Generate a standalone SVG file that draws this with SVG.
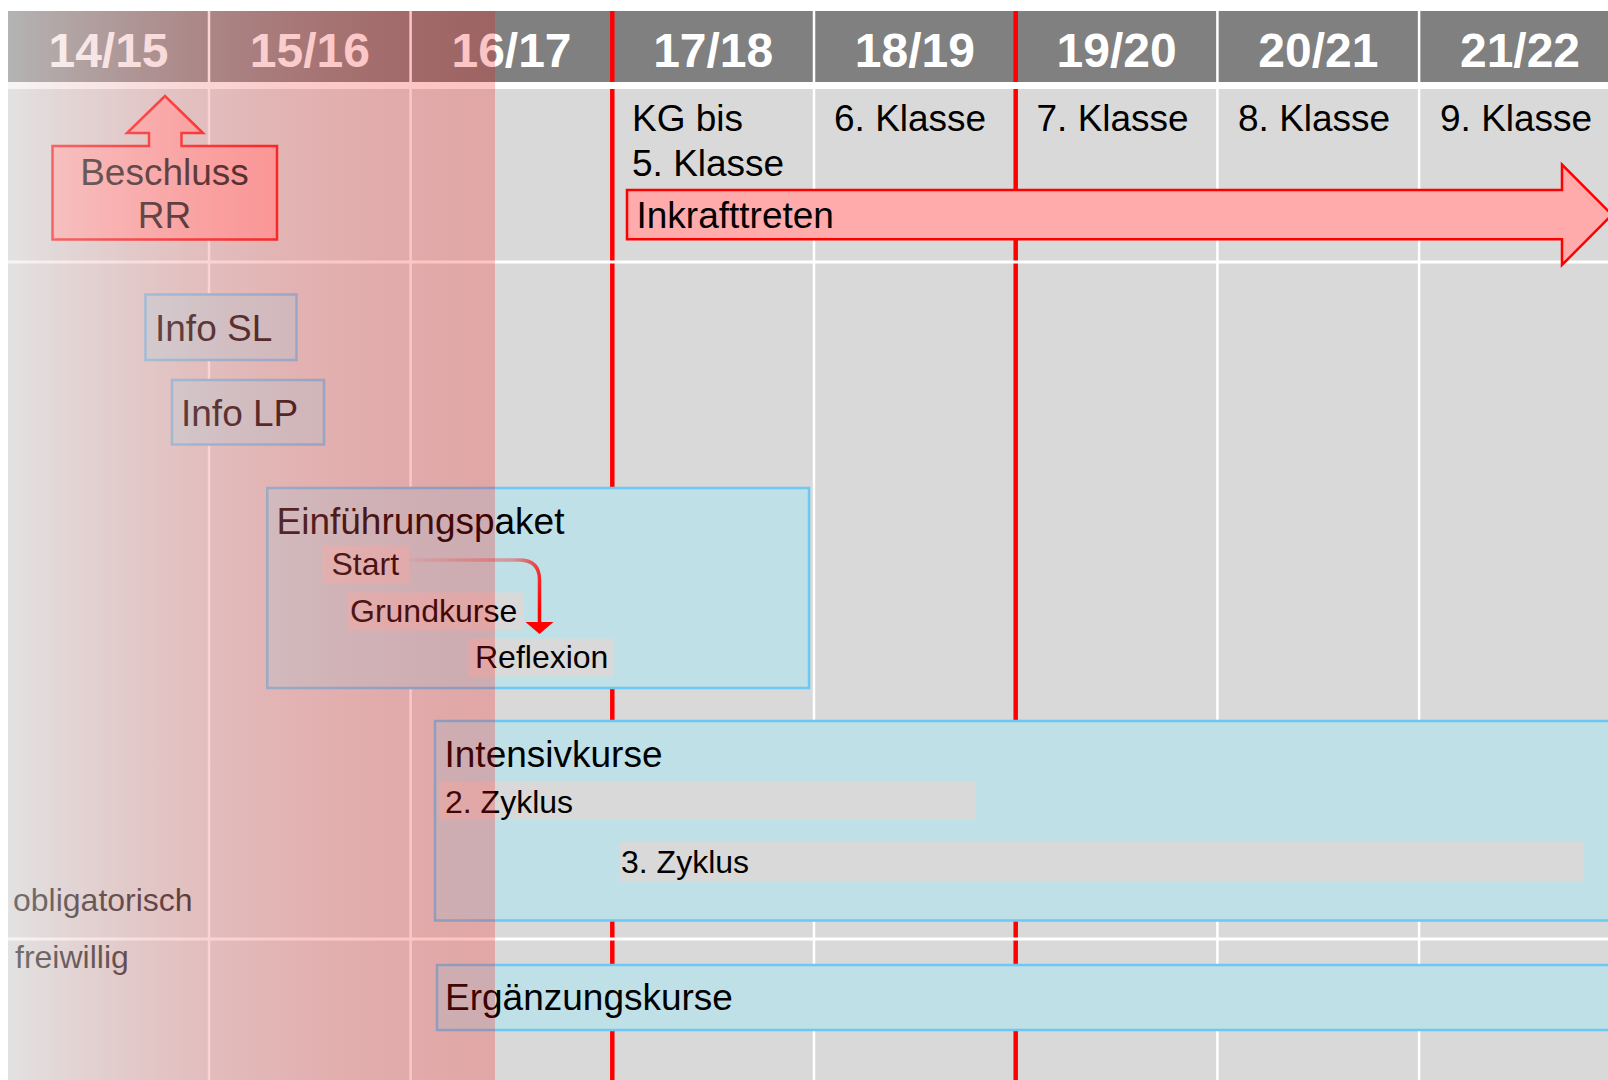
<svg xmlns="http://www.w3.org/2000/svg" width="1608" height="1080" viewBox="0 0 1608 1080">
<defs>
<style>
text{font-family:"Liberation Sans",Arial,sans-serif;fill:#000}
.yr{font-size:48px;font-weight:bold;fill:#fff;text-anchor:middle}
.kl{font-size:37px}
.lbl{font-size:37px}
.sub{font-size:32px}
.side{font-size:32px}
.vline{stroke:#fff;stroke-width:2.5}
.redline{stroke:#ff0000;stroke-width:4.5}
.hline{fill:#fff}
.box{fill:#bfe0e6;stroke:#6cc8f4;stroke-width:2.5}
.bar{fill:#d9d9d9}
.callout{fill:#ffabab;stroke:#ff0000;stroke-width:2.5}
</style>
<linearGradient id="ov" gradientUnits="userSpaceOnUse" x1="8" y1="0" x2="495" y2="0">
<stop offset="0" stop-color="rgb(236,236,236)" stop-opacity="0.48"/>
<stop offset="1" stop-color="rgb(250,10,10)" stop-opacity="0.24"/>
</linearGradient>
<linearGradient id="cg" gradientUnits="userSpaceOnUse" x1="409" y1="560" x2="540" y2="610">
<stop offset="0" stop-color="#ff0000" stop-opacity="0.05"/>
<stop offset="0.7" stop-color="#ff0000" stop-opacity="0.35"/>
<stop offset="1" stop-color="#ff0000" stop-opacity="1"/>
</linearGradient>
<marker id="ah" markerUnits="userSpaceOnUse" viewBox="0 0 12 28" refX="0" refY="14" markerWidth="12" markerHeight="28" orient="auto">
<path d="M0,0 L12,14 L0,28 Z" fill="#ff0000"/>
</marker>
</defs>
<rect x="0" y="0" width="1608" height="1080" fill="#fff"/>
<g id="grid">
<rect x="8" y="11" width="1600" height="71" fill="#808080"/>
<rect x="8" y="89" width="1600" height="991" fill="#d9d9d9"/>
<line class="vline" x1="209" y1="11" x2="209" y2="1080"/>
<line class="vline" x1="410.6" y1="11" x2="410.6" y2="1080"/>
<line class="vline" x1="814" y1="11" x2="814" y2="1080"/>
<line class="vline" x1="1217.4" y1="11" x2="1217.4" y2="1080"/>
<line class="vline" x1="1419.1" y1="11" x2="1419.1" y2="1080"/>
<line class="redline" x1="612.3" y1="11" x2="612.3" y2="1080"/>
<line class="redline" x1="1015.7" y1="11" x2="1015.7" y2="1080"/>
<rect class="hline" x="8" y="82" width="1600" height="7"/>
<rect class="hline" x="8" y="260.5" width="1600" height="3"/>
<rect class="hline" x="8" y="937.5" width="1600" height="3"/>
</g>
<g id="years">
<text class="yr" x="108.5" y="66.5">14/15</text>
<text class="yr" x="309.8" y="66.5">15/16</text>
<text class="yr" x="511.5" y="66.5">16/17</text>
<text class="yr" x="713.2" y="66.5">17/18</text>
<text class="yr" x="914.9" y="66.5">18/19</text>
<text class="yr" x="1116.6" y="66.5">19/20</text>
<text class="yr" x="1318.3" y="66.5">20/21</text>
<text class="yr" x="1520" y="66.5">21/22</text>
</g>
<g id="classes">
<text class="kl" x="632" y="130.5">KG bis</text>
<text class="kl" x="632" y="176">5. Klasse</text>
<text class="kl" x="834" y="130.5">6. Klasse</text>
<text class="kl" x="1036.5" y="130.5">7. Klasse</text>
<text class="kl" x="1238" y="130.5">8. Klasse</text>
<text class="kl" x="1440" y="130.5">9. Klasse</text>
</g>
<g id="inkrafttreten">
<path class="callout" d="M627,190 H1562 V164.5 L1612,214.7 L1562,265 V239.3 H627 Z"/>
<text class="lbl" x="636.5" y="227.5">Inkrafttreten</text>
</g>
<g id="beschluss">
<path class="callout" d="M52.5,146 H149 V133 H127 L165,96 L203,133 H181.5 V146 H277 V239.5 H52.5 Z"/>
<text class="lbl" x="164.5" y="184.5" text-anchor="middle">Beschluss</text>
<text class="lbl" x="164.5" y="227.5" text-anchor="middle">RR</text>
</g>
<g id="info-sl">
<rect class="box" x="145.5" y="294.5" width="151" height="65.5"/>
<text class="lbl" x="155" y="341">Info SL</text>
</g>
<g id="info-lp">
<rect class="box" x="172" y="380" width="152" height="64.5"/>
<text class="lbl" x="181" y="425.5">Info LP</text>
</g>
<g id="einfuehrungspaket">
<rect class="box" x="267.3" y="488" width="541.7" height="200"/>
<text class="lbl" x="276.5" y="533.5">Einführungspaket</text>
</g>
<g id="start">
<rect class="bar" x="322.5" y="545.5" width="86.5" height="37.5"/>
<text class="sub" x="331.5" y="575">Start</text>
</g>
<g id="grundkurse">
<rect class="bar" x="347.5" y="592.5" width="176.5" height="38"/>
<text class="sub" x="350" y="621.5">Grundkurse</text>
</g>
<g id="reflexion">
<rect class="bar" x="468.5" y="638.5" width="145.5" height="38"/>
<text class="sub" x="475" y="667.5">Reflexion</text>
</g>
<g id="intensivkurse">
<rect class="box" x="435" y="721" width="1200" height="199.5"/>
<text class="lbl" x="444.5" y="766.5">Intensivkurse</text>
</g>
<g id="zyklus2">
<rect class="bar" x="439" y="782" width="537" height="38"/>
<text class="sub" x="445" y="813">2. Zyklus</text>
</g>
<g id="zyklus3">
<rect class="bar" x="620" y="842" width="964" height="39"/>
<text class="sub" x="621" y="872.5">3. Zyklus</text>
</g>
<g id="ergaenzungskurse">
<rect class="box" x="437" y="965" width="1200" height="65"/>
<text class="lbl" x="445" y="1010">Ergänzungskurse</text>
</g>
<g id="connectors">
<path d="M409,560 H519 Q539.5,560 539.5,580 V622" fill="none" stroke="url(#cg)" stroke-width="3.5" marker-end="url(#ah)"/>
</g>
<g id="side-labels">
<text class="side" x="13" y="910.5">obligatorisch</text>
<text class="side" x="15" y="968">freiwillig</text>
</g>
<rect id="past-overlay" x="8" y="11" width="487" height="1069" fill="url(#ov)"/>
</svg>
